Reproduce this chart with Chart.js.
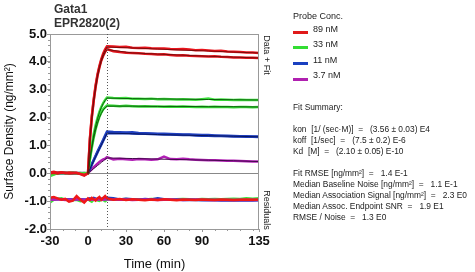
<!DOCTYPE html>
<html>
<head>
<meta charset="utf-8">
<script src="https://cdn.jsdelivr.net/npm/chart.js@4.4.1/dist/chart.umd.min.js"></script>
<style>
  body { margin: 0; background: #fff; font-family: "Liberation Sans", Arial, sans-serif; }
  #wrap { position: relative; width: 475px; height: 272px; }
  .t { position: absolute; white-space: pre; color: #222; font-size: 9px; line-height: 11px; }
  .fs { font-size: 8.4px; }
  .ttl { position: absolute; left: 54px; font-weight: bold; font-size: 12px; color: #333; }
  .sw { position: absolute; left: 293px; width: 15px; height: 3px; }
</style>
</head>
<body>
<div id="wrap">
  <canvas id="myChart" width="475" height="272"></canvas>
  <div class="ttl" style="top:2px">Gata1</div>
  <div class="ttl" style="top:16px">EPR2820(2)</div>

  <div class="t" style="left:293px;top:11px">Probe Conc.</div>
  <div class="sw" style="top:31px;background:#e01a1a"></div>
  <div class="t" style="left:313px;top:24px">89 nM</div>
  <div class="sw" style="top:46px;background:#33dd33"></div>
  <div class="t" style="left:313px;top:39px">33 nM</div>
  <div class="sw" style="top:62px;background:#1a40c0"></div>
  <div class="t" style="left:313px;top:55px">11 nM</div>
  <div class="sw" style="top:78px;background:#b020b0"></div>
  <div class="t" style="left:313px;top:70px">3.7 nM</div>

  <div class="t fs" style="left:293px;top:102px">Fit Summary:

kon  [1/ (sec·M)]  =   (3.56 ± 0.03) E4
koff  [1/sec]  =   (7.5 ± 0.2) E-6
Kd  [M]  =   (2.10 ± 0.05) E-10

Fit RMSE [ng/mm²]  =   1.4 E-1
Median Baseline Noise [ng/mm²]  =   1.1 E-1
Median Association Signal [ng/mm²]  =   2.3 E0
Median Assoc. Endpoint SNR  =   1.9 E1
RMSE / Noise  =   1.3 E0</div>
</div>

<script>
// time points (min) for the measured traces
const dataTime = [-30,-27,-24,-21,-18,-15,-12,-9,-6,-3,0,
  1.5,3,4.5,6,7.5,9,10.5,12,13.5,15,
  20,25,30,35,40,45,50,55,60,65,70,75,80,85,90,95,100,105,110,115,120,125,130,135];

// time points (min) for the fitted curves
const fitTime = [0,1.5,3,4.5,6,7.5,9,10.5,12,13.5,15,35,55,75,95,115,135];

const xTicks = [-30, 0, 30, 60, 90, 135];
const assocEnd = 15;

// measured traces (ng/mm2)
const red89a = [0.03,0.05,0.02,0.04,0.0,0.03,0.02,0.01,-0.02,-0.06,0.0,
  1.25,2.05,2.65,3.15,3.55,3.85,4.1,4.3,4.45,4.56,
  4.55,4.53,4.54,4.51,4.5,4.51,4.49,4.48,4.48,4.46,4.45,4.46,4.44,4.42,4.43,4.41,4.39,4.4,4.37,4.36,4.35,4.34,4.34,4.32];
const red89b = [0.0,0.02,-0.01,0.03,0.02,-0.01,0.0,0.02,-0.03,-0.08,0.0,
  1.2,2.0,2.6,3.1,3.5,3.8,4.05,4.22,4.36,4.46,
  4.38,4.35,4.33,4.32,4.31,4.29,4.28,4.26,4.27,4.25,4.23,4.24,4.22,4.21,4.2,4.19,4.2,4.18,4.17,4.16,4.16,4.15,4.15,4.14];
const green33a = [-0.1,-0.05,0.01,0.02,0.0,0.02,0.01,0.0,0.01,-0.02,0.0,
  0.55,1.0,1.4,1.72,1.98,2.2,2.38,2.52,2.63,2.72,
  2.7,2.69,2.7,2.68,2.68,2.67,2.68,2.66,2.67,2.66,2.65,2.66,2.65,2.64,2.66,2.68,2.64,2.65,2.64,2.63,2.64,2.63,2.63,2.63];
const green33b = [-0.06,-0.03,0.0,0.01,0.01,0.0,0.02,0.0,-0.01,0.01,0.0,
  0.5,0.92,1.28,1.58,1.83,2.03,2.18,2.3,2.37,2.43,
  2.42,2.41,2.42,2.41,2.4,2.41,2.4,2.4,2.39,2.4,2.39,2.4,2.39,2.38,2.39,2.38,2.39,2.38,2.38,2.37,2.38,2.38,2.37,2.38];
const blue11a = [0.01,0.0,0.02,0.01,0.0,0.01,0.02,0.0,0.01,0.0,0.0,
  0.17,0.33,0.48,0.63,0.78,0.92,1.06,1.2,1.36,1.5,
  1.48,1.47,1.46,1.47,1.45,1.44,1.43,1.42,1.42,1.41,1.4,1.39,1.39,1.38,1.37,1.37,1.36,1.35,1.35,1.34,1.33,1.33,1.32,1.32];
const blue11b = [0.0,0.01,0.0,0.02,0.01,0.0,0.0,0.01,0.0,-0.01,0.0,
  0.15,0.31,0.46,0.6,0.75,0.89,1.03,1.17,1.31,1.44,
  1.45,1.44,1.45,1.43,1.42,1.42,1.41,1.4,1.39,1.39,1.38,1.37,1.37,1.36,1.35,1.35,1.34,1.34,1.33,1.32,1.32,1.31,1.31,1.3];
const purple37 = [0.01,0.0,0.01,0.0,0.02,0.0,0.01,0.0,0.0,0.01,0.0,
  0.08,0.15,0.22,0.28,0.35,0.41,0.46,0.5,0.52,0.58,
  0.5,0.52,0.5,0.49,0.51,0.5,0.49,0.5,0.6,0.51,0.5,0.52,0.5,0.49,0.48,0.47,0.47,0.46,0.45,0.45,0.44,0.43,0.42,0.42];

// fitted curves
const fitRed89a = [0,1.2,2.0,2.62,3.12,3.52,3.83,4.08,4.27,4.42,4.53,4.5,4.46,4.42,4.39,4.35,4.32];
const fitRed89b = [0,1.15,1.95,2.57,3.06,3.46,3.77,4.02,4.2,4.34,4.44,4.32,4.28,4.24,4.2,4.17,4.14];
const fitGreen33a = [0,0.52,0.97,1.37,1.69,1.96,2.18,2.36,2.5,2.61,2.7,2.68,2.67,2.66,2.65,2.64,2.63];
const fitGreen33b = [0,0.48,0.9,1.26,1.56,1.8,2.0,2.15,2.27,2.35,2.41,2.41,2.4,2.4,2.39,2.39,2.38];
const fitBlue11 = [0,0.15,0.3,0.45,0.6,0.74,0.88,1.02,1.16,1.3,1.44,1.42,1.39,1.37,1.35,1.33,1.31];
const fitPurple37 = [0,0.06,0.11,0.17,0.22,0.28,0.33,0.39,0.44,0.5,0.55,0.53,0.51,0.49,0.47,0.45,0.42];

// residuals (plotted offset below the traces)
const resRed = [-0.88,-0.85,-0.9,-0.95,-0.92,-1.02,-0.98,-0.82,-0.95,-1.05,-0.9,
  -0.95,-0.88,-0.93,-0.98,-0.9,-0.85,-0.95,-0.88,-0.82,-0.9,
  -0.95,-0.92,-0.96,-0.93,-0.95,-0.97,-0.94,-0.96,-0.93,-0.95,-0.97,-0.94,-0.95,-0.96,-0.94,-0.95,-0.96,-0.94,-0.95,-0.96,-0.95,-0.94,-0.95,-0.94];
const resGreen = [-1.05,-0.95,-0.92,-0.9,-0.95,-0.93,-0.97,-0.95,-1.0,-0.98,-0.93,
  -0.98,-1.02,-0.95,-0.92,-0.97,-0.99,-0.94,-0.96,-1.0,-0.95,
  -0.93,-0.94,-0.92,-0.95,-0.93,-0.94,-0.92,-0.93,-0.94,-0.95,-0.93,-0.92,-0.93,-0.94,-0.92,-0.93,-0.92,-0.93,-0.92,-0.91,-0.92,-0.9,-0.91,-0.9];
const resBlue = [-0.93,-0.94,-0.92,-0.93,-0.95,-0.93,-0.94,-0.92,-0.93,-0.94,-0.93,
  -0.9,-0.92,-0.88,-0.91,-0.93,-0.9,-0.92,-0.89,-0.91,-0.88,
  -0.9,-0.94,-0.91,-0.93,-0.95,-0.92,-0.94,-0.9,-0.93,-0.95,-0.94,-0.96,-0.95,-0.96,-0.97,-0.96,-0.97,-0.98,-0.97,-0.98,-0.97,-0.98,-0.98,-0.97];
const resPurple = [-0.94,-0.95,-0.93,-0.94,-0.96,-0.94,-0.95,-0.93,-0.94,-0.95,-0.94,
  -0.93,-0.95,-0.94,-0.92,-0.95,-0.94,-0.93,-0.95,-0.94,-0.93,
  -0.94,-0.95,-0.94,-0.96,-0.95,-0.94,-0.95,-0.96,-0.95,-0.94,-0.95,-0.96,-0.95,-0.94,-0.95,-0.96,-0.95,-0.96,-0.95,-0.96,-0.95,-0.96,-0.95,-0.96];

const pts = (xs, ys) => xs.map((x, i) => ({ x: x, y: ys[i] }));

function line(xs, ys, color, width, order) {
    return {
        data: pts(xs, ys),
        borderColor: color,
        borderWidth: width,
        pointRadius: 0,
        tension: 0,
        fill: false,
        order: order
    };
}

const datasets = [
    line(fitTime, fitRed89a, '#7a0a0a', 1, 0),
    line(fitTime, fitRed89b, '#7a0a0a', 1, 0),
    line(fitTime, fitGreen33a, '#0b5e0b', 1, 0),
    line(fitTime, fitGreen33b, '#0b5e0b', 1, 0),
    line(fitTime, fitBlue11, '#08165e', 1, 0),
    line(fitTime, fitPurple37, '#42084a', 1, 0),
    line(dataTime, red89a, '#e8141c', 2.5, 1),
    line(dataTime, red89b, '#e0141c', 2.5, 1),
    line(dataTime, green33a, '#3ee43e', 2.5, 1),
    line(dataTime, green33b, '#36dc36', 2.5, 1),
    line(dataTime, blue11a, '#1f3fbf', 2.5, 1),
    line(dataTime, blue11b, '#1a38b4', 2.5, 1),
    line(dataTime, purple37, '#b11fb5', 2.5, 1),
    line(dataTime, resRed, '#f01818', 2.5, 2),
    line(dataTime, resPurple, '#b11fb5', 2.5, 3),
    line(dataTime, resBlue, '#1f3fbf', 2.5, 3),
    line(dataTime, resGreen, '#3ee43e', 2.5, 4)
];

const extras = {
    id: 'extras',
    afterDraw(chart) {
        const { ctx, chartArea: a, scales: { x, y } } = chart;
        ctx.save();
        // box
        ctx.strokeStyle = '#999';
        ctx.lineWidth = 1;
        ctx.strokeRect(a.left + 0.5, a.top + 0.5, a.right - a.left - 1, a.bottom - a.top);
        // minor ticks
        ctx.strokeStyle = '#999';
        ctx.beginPath();
        for (let v = -2; v <= 5.001; v += 0.2) {
            const py = Math.round(y.getPixelForValue(v)) + 0.5;
            ctx.moveTo(a.left - 2, py);
            ctx.lineTo(a.left, py);
        }
        for (let v = -20; v < 135; v += 10) {
            const px = Math.round(x.getPixelForValue(v)) + 0.5;
            ctx.moveTo(px, a.bottom);
            ctx.lineTo(px, a.bottom + 2);
        }
        ctx.stroke();
        // end of association
        const px = Math.round(x.getPixelForValue(assocEnd)) + 0.5;
        ctx.strokeStyle = '#555';
        ctx.setLineDash([1, 2]);
        ctx.beginPath();
        ctx.moveTo(px, a.top);
        ctx.lineTo(px, a.bottom);
        ctx.stroke();
        ctx.setLineDash([]);
        // side labels
        ctx.fillStyle = '#222';
        ctx.font = '9px "Liberation Sans", Arial, sans-serif';
        ctx.textAlign = 'center';
        ctx.textBaseline = 'middle';
        [['Data + Fit', 55], ['Residuals', 210]].forEach(([txt, cy]) => {
            ctx.save();
            ctx.translate(a.right + 7, cy);
            ctx.rotate(Math.PI / 2);
            ctx.fillText(txt, 0, 0);
            ctx.restore();
        });
        ctx.restore();
    }
};

const ctx = document.getElementById('myChart').getContext('2d');
const myChart = new Chart(ctx, {
    type: 'line',
    data: { datasets: datasets },
    options: {
        responsive: false,
        animation: false,
        devicePixelRatio: 1,
        layout: { padding: { top: 34, right: 216, bottom: 0, left: 0 } },
        plugins: { legend: { display: false }, tooltip: { enabled: false } },
        scales: {
            x: {
                type: 'linear',
                min: -30,
                max: 135,
                afterBuildTicks: axis => { axis.ticks = xTicks.map(v => ({ value: v })); },
                afterFit: axis => { axis.height = 43; },
                grid: { drawOnChartArea: false, tickLength: 3, tickColor: '#999' },
                border: { color: '#999' },
                ticks: {
                    autoSkip: false,
                    maxRotation: 0,
                    padding: 2,
                    color: '#111',
                    font: { family: '"Liberation Sans", Arial, sans-serif', size: 13, weight: 'bold' }
                },
                title: {
                    display: true,
                    text: 'Time (min)',
                    color: '#111',
                    padding: 0,
                    font: { family: '"Liberation Sans", Arial, sans-serif', size: 13 }
                }
            },
            y: {
                min: -2,
                max: 5,
                afterFit: axis => { axis.width = 50; },
                grid: {
                    color: c => (c.tick && Math.abs(c.tick.value) < 1e-9) ? '#888' : 'rgba(0,0,0,0)',
                    tickLength: 3,
                    tickColor: '#999'
                },
                border: { color: '#999' },
                ticks: {
                    stepSize: 1,
                    padding: 0,
                    color: '#111',
                    callback: v => v.toFixed(1),
                    font: { family: '"Liberation Sans", Arial, sans-serif', size: 13, weight: 'bold' }
                },
                title: {
                    display: true,
                    text: 'Surface Density (ng/mm²)',
                    color: '#111',
                    padding: { top: 2, bottom: 0 },
                    font: { family: '"Liberation Sans", Arial, sans-serif', size: 12 }
                }
            }
        }
    },
    plugins: [extras]
});
</script>
</body>
</html>
